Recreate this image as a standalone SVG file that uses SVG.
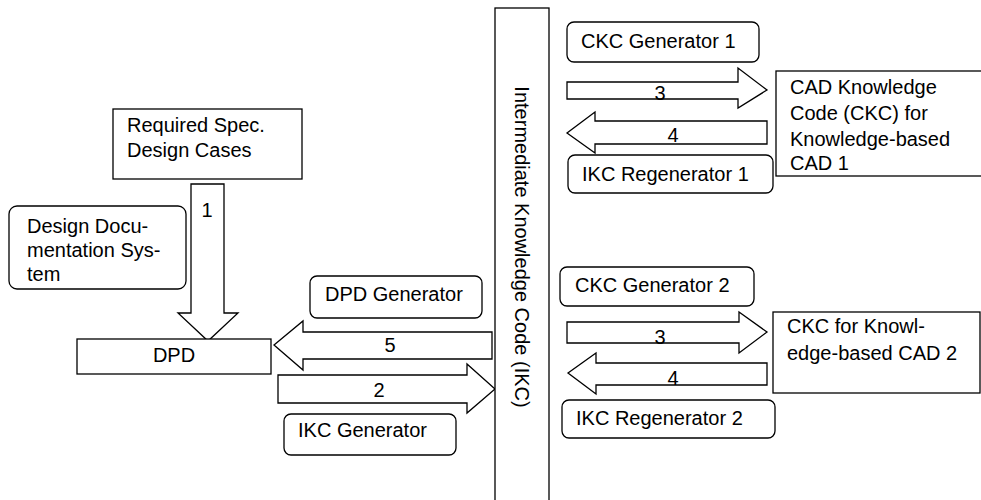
<svg xmlns="http://www.w3.org/2000/svg" width="981" height="500" viewBox="0 0 981 500">
<style>
.b{fill:#fff;stroke:#000;stroke-width:1.3}
.a{fill:#fff;stroke:#000;stroke-width:1.3;stroke-linejoin:miter}
text{font-family:"Liberation Sans",Arial,sans-serif;font-size:20px;fill:#000}
.m{text-anchor:middle}
</style>
<rect width="981" height="500" fill="#fff"/>
<g id="connectors">
<polygon class="a" points="191,184 224,184 224,313 238,313 208,341 178,313 191,313"/>
<text class="m" x="207" y="217">1</text>
<polygon class="a" points="492,332 303,332 303,321 274,345 303,370 303,359 492,359"/>
<text class="m" x="390" y="352">5</text>
<polygon class="a" points="278,375 467,375 467,364 495,389 467,413 467,403 278,403"/>
<text class="m" x="379" y="397">2</text>
<polygon class="a" points="567,82 738,82 738,68 767,90 738,108 738,99 567,99"/>
<text class="m" x="660" y="100">3</text>
<polygon class="a" points="767,121 595,121 595,112 567,133 595,153 595,144 767,144"/>
<text class="m" x="673" y="142">4</text>
<polygon class="a" points="567,322 739,322 739,312 767,332 739,353 739,343 567,343"/>
<text class="m" x="660" y="344">3</text>
<polygon class="a" points="767,363 596,363 596,353 568,373 596,394 596,385 767,385"/>
<text class="m" x="673" y="385">4</text>
</g>
<g id="ikc">
<rect class="b" x="495" y="8" width="54" height="500"/>
<text class="m" transform="translate(522,247) rotate(90)" x="0" y="7">Intermediate Knowledge Code (IKC)</text>
</g>
<g id="required-spec">
<rect class="b" x="113" y="109" width="189" height="70"/>
<text x="127" y="132">Required Spec.</text>
<text x="127" y="157">Design Cases</text>
</g>
<g id="design-doc">
<rect class="b" x="9" y="206" width="177" height="83" rx="8"/>
<text x="27" y="233">Design Docu-</text>
<text x="27" y="257">mentation Sys-</text>
<text x="27" y="281">tem</text>
</g>
<g id="dpd">
<rect class="b" x="77" y="339" width="194" height="35"/>
<text class="m" x="174" y="362">DPD</text>
</g>
<g id="dpd-generator">
<rect class="b" x="310" y="276" width="172" height="42" rx="7"/>
<text x="325" y="301">DPD Generator</text>
</g>
<g id="ikc-generator">
<rect class="b" x="284" y="414" width="172" height="41" rx="7"/>
<text x="298" y="437">IKC Generator</text>
</g>
<g id="ckc-generator-1">
<rect class="b" x="567" y="22" width="192" height="40" rx="7"/>
<text x="581" y="48">CKC Generator 1</text>
</g>
<g id="ikc-regenerator-1">
<rect class="b" x="568" y="155" width="205" height="38" rx="7"/>
<text x="582" y="181">IKC Regenerator 1</text>
</g>
<g id="cad-1">
<rect class="b" x="776" y="71" width="210" height="105"/>
<text x="790" y="94">CAD Knowledge</text>
<text x="790" y="120">Code (CKC) for</text>
<text x="790" y="146">Knowledge-based</text>
<text x="790" y="170">CAD 1</text>
</g>
<g id="ckc-generator-2">
<rect class="b" x="560" y="267" width="194" height="39" rx="7"/>
<text x="575" y="292">CKC Generator 2</text>
</g>
<g id="ikc-regenerator-2">
<rect class="b" x="562" y="400" width="213" height="38" rx="7"/>
<text x="576" y="425">IKC Regenerator 2</text>
</g>
<g id="cad-2">
<rect class="b" x="773" y="312" width="207" height="81"/>
<text x="787" y="333">CKC for Knowl-</text>
<text x="787" y="360">edge-based CAD 2</text>
</g>
</svg>
